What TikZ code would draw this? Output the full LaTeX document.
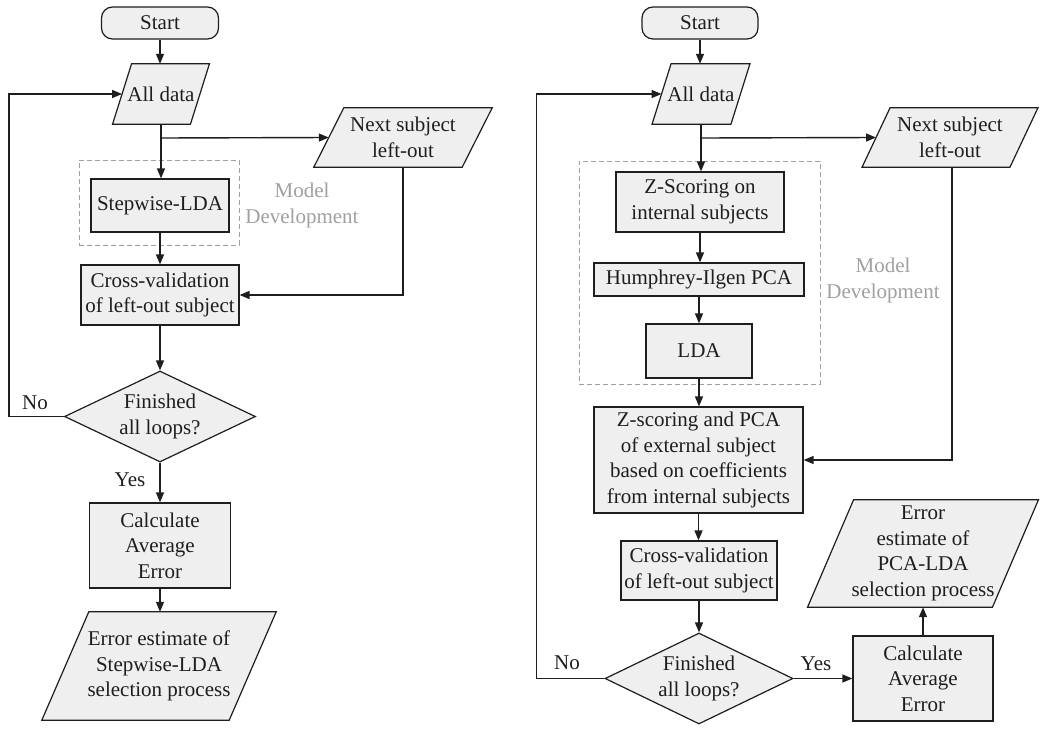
\documentclass[tikz,border=0pt]{standalone}
\usepackage{fontspec}
\setmainfont{Liberation Serif}
\usetikzlibrary{arrows.meta,shapes.geometric,calc}
\pgfdeclarelayer{background}
\pgfsetlayers{background,main}
\definecolor{boxfill}{HTML}{EFEFEF}
\definecolor{lineblk}{HTML}{1E1E1E}
\definecolor{mdgray}{HTML}{A0A0A0}
\newcommand\paral[2]{%
  \draw[boxline, fill=boxfill] ($(#1.south west)+(-#2,0)$) -- ($(#1.south east)+(-#2,0)$) -- ($(#1.north east)+(#2,0)$) -- ($(#1.north west)+(#2,0)$) -- cycle;}
\tikzset{
  every node/.style={font=\fontsize{21}{25.5}\selectfont, text=lineblk},
  boxline/.style={draw=lineblk, line width=1.2pt},
  proc/.style={boxline, fill=boxfill, inner sep=0pt, align=center},
  term/.style={proc, rounded corners=11pt},
  io/.style={inner sep=0pt, align=center},
  dec/.style={proc, diamond, aspect=2},
  dashbox/.style={draw=mdgray, dash pattern=on 5pt off 3pt, line width=1pt, inner sep=0pt},
  mdtext/.style={text=mdgray, align=center},
  arr/.style={draw=lineblk, line width=1.4pt, -{Triangle[length=10pt,width=8pt]}},
  lbl/.style={inner sep=0pt},
}
\begin{document}
\begin{tikzpicture}[x=1pt,y=-1pt]
\useasboundingbox (0,0) rectangle (1050,731);

% ---------- left chart ----------
\node[dashbox, minimum width=160pt, minimum height=85pt] (md1) at (159,202.5) {};
\node[term, minimum width=117pt, minimum height=32pt] (start1) at (160,23) {Start};
\node[io, minimum width=77.5pt, minimum height=60pt] (all1) at (161,94) {All data};
\node[io, minimum width=148pt, minimum height=59pt] (next1) at (403,137.5) {Next subject\\left-out};
\node[proc, minimum width=138pt, minimum height=53pt] (slda) at (160,205.5) {Stepwise-LDA};
\node[mdtext] (mdt1) at (302,205.5) {Model\\Development};
\node[proc, minimum width=158pt, minimum height=60pt] (cv1) at (160,295) {Cross-validation\\of left-out subject};
\node[dec, minimum width=191pt, minimum height=91pt] (dia1) at (160,416.5) {Finished\\all loops?};
\node[proc, minimum width=141pt, minimum height=85pt] (calc1) at (160,545.5) {Calculate\\Average\\Error};
\node[io, minimum width=187pt, minimum height=108pt] (err1) at (159,666) {Error estimate of\\Stepwise-LDA\\selection process};
\node[lbl] (no1) at (35,403) {No};
\node[lbl] (yes1) at (130,480) {Yes};
\coordinate (br1) at (161,138);

% ---------- right chart ----------
\node[dashbox, minimum width=241pt, minimum height=223pt] (md2) at (699.5,272.5) {};
\node[term, minimum width=116pt, minimum height=32pt] (start2) at (700,23) {Start};
\node[io, minimum width=78.5pt, minimum height=60pt] (all2) at (701,94) {All data};
\node[io, minimum width=147.5pt, minimum height=59pt] (next2) at (950,137.5) {Next subject\\left-out};
\node[proc, minimum width=168pt, minimum height=60pt] (zs) at (700,202) {Z-Scoring on\\internal subjects};
\node[proc, minimum width=210pt, minimum height=33pt] (hum) at (699,279.5) {Humphrey-Ilgen PCA};
\node[proc, minimum width=106pt, minimum height=54pt] (lda) at (699,351) {LDA};
\node[mdtext] (mdt2) at (883,280.5) {Model\\Development};
\node[proc, minimum width=209pt, minimum height=106pt] (zpca) at (698.5,460) {Z-scoring and PCA\\of external subject\\based on coefficients\\from internal subjects};
\node[proc, minimum width=156pt, minimum height=59pt] (cv2) at (699,570.5) {Cross-validation\\of left-out subject};
\node[dec, minimum width=188pt, minimum height=91pt] (dia2) at (699,678.5) {Finished\\all loops?};
\node[proc, minimum width=140pt, minimum height=85pt] (calc2) at (923,678.5) {Calculate\\Average\\Error};
\node[io, minimum width=184.5pt, minimum height=107pt] (err2) at (923,553.5) {Error\\estimate of\\PCA-LDA\\selection process};
\node[lbl] (no2) at (567,663) {No};
\node[lbl] (yes2) at (816,664) {Yes};
\coordinate (br2) at (701,138);

% parallelograms behind text
\begin{pgfonlayer}{background}
\paral{all1}{9.5}
\paral{next1}{15}
\paral{err1}{23.5}
\paral{all2}{9.5}
\paral{next2}{14}
\paral{err2}{23}
\end{pgfonlayer}

% ---------- connectors left ----------
\draw[arr] (start1.south) -- (start1.south |- all1.north);
\draw[arr] (all1.south) -- (all1.south |- slda.north);
\draw[arr] (br1) -- (next1.west);
\draw[arr] (slda.south) -- (cv1.north);
\draw[arr] (next1.south) |- (cv1.east);
\draw[arr] (cv1.south) -- (dia1.north);
\draw[arr] (dia1.west) -- ++(-55,0) |- (all1.west);
\draw[arr] (dia1.south) -- (calc1.north);
\draw[arr] (calc1.south) -- (calc1.south |- err1.north);

% ---------- connectors right ----------
\draw[arr] (start2.south) -- (start2.south |- all2.north);
\draw[arr] (all2.south) -- (all2.south |- zs.north);
\draw[arr] (br2) -- (next2.west);
\draw[arr] (zs.south) -- (zs.south |- hum.north);
\draw[arr] (hum.south) -- (lda.north);
\draw[arr] (lda.south) -- (lda.south |- zpca.north);
\draw[arr] (next2.south) ++(2,0) |- (zpca.east);
\draw[arr] (zpca.south) -- (zpca.south |- cv2.north);
\draw[arr] (cv2.south) -- (dia2.north);
\draw[arr] (dia2.west) -- ++(-68,0) |- (all2.west);
\draw[arr] (dia2.east) -- (calc2.west);
\draw[arr] (calc2.north) -- (err2.south);
\end{tikzpicture}
\end{document}
